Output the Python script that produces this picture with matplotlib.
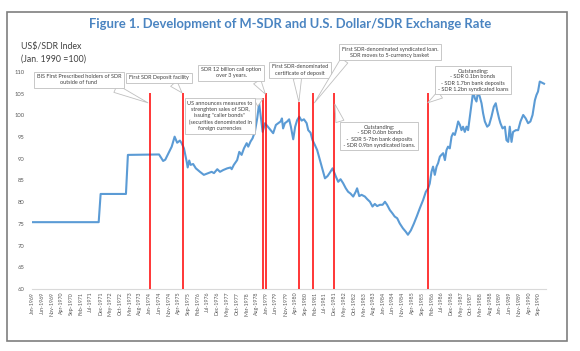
import numpy as np
import matplotlib
matplotlib.use('Agg')
import matplotlib.pyplot as plt
from matplotlib.patches import Rectangle

# months since Jan-1969 and US$/SDR index (Jan. 1990 = 100)
months = [0, 34, 35, 48, 49, 65, 67.1, 68.2, 71.5, 73, 74.3, 75.7, 76.6, 77.8, 79.2, 79.7, 80.5, 81.2,
          82.5, 83.9, 86, 88, 90.2, 92, 93.2, 94.9, 96.3, 97.9, 100, 101.7, 102.3, 103.4, 105.1, 106.2,
          107.4, 108.6, 110, 110.8, 112, 113, 114.2, 115.4, 116.4, 118.2, 119.4, 120.5, 122.3, 123.6,
          125, 126.2, 127.4, 128.1, 128.7, 129.6, 130.8, 131.8, 132.7, 133.9, 134.9, 135.9, 137, 138.2,
          139.4, 140.8, 141.6, 142.8, 143.8, 145, 146.2, 147.6, 149, 150.2, 151.5, 152.7, 154.1, 154.8,
          155.8, 157, 158.2, 159.5, 160.9, 162.1, 163.3, 164.7, 166, 166.7, 167.8, 169, 170.7, 171.9,
          173.3, 174.6, 175.8, 177, 178.4, 179.8, 181, 182.1, 183.5, 184.9, 186, 187.3, 188.6, 190.2,
          191.7, 192.8, 194.3, 195.8, 197.4, 198.9, 200.6, 202, 203.2, 204, 204.9, 205.7, 206.6, 207.5,
          208.3, 209.2, 210, 210.9, 211.8, 212.6, 213.4, 214.3, 215.2, 216, 216.9, 217.8, 218.6, 219.5,
          220.3, 221.1, 222, 222.9, 223.7, 224.6, 225.5, 226.3, 227.2, 228, 228.8, 229.7, 230.6, 231.4,
          232.3, 233.5, 234.5, 235.7, 236.9, 237.9, 238.6, 239.6, 240.3, 241.4, 242.6, 243.4, 244.3,
          245.1, 246, 246.8, 248.2, 249.4, 250.6, 252, 253.3, 254.5, 255.7, 256.8, 258, 258.8, 259.6,
          260.5, 261.4, 262.7]
index_vals = [75.4, 75.4, 81.9, 81.9, 90.9, 91.0, 89.5, 89.8, 92.8, 95.1, 93.7, 94.2, 93.6, 92.4, 89.3,
              88.0, 89.6, 88.6, 88.8, 87.8, 87.0, 86.3, 86.7, 87.0, 86.7, 87.6, 87.0, 87.4, 87.8, 88.0,
              87.6, 88.6, 89.7, 91.6, 90.9, 92.4, 93.6, 92.8, 94.0, 94.7, 96.2, 99.3, 102.8, 96.2, 98.2,
              97.6, 96.6, 95.9, 97.8, 98.2, 98.6, 99.3, 97.0, 98.2, 98.6, 99.1, 97.4, 94.5, 97.4, 98.9,
              99.7, 98.8, 99.1, 98.2, 96.6, 96.0, 94.3, 93.2, 92.0, 89.7, 87.4, 85.5, 86.0, 86.8, 87.8,
              87.0, 85.9, 84.7, 85.3, 84.4, 83.2, 82.4, 82.0, 81.3, 82.4, 83.2, 81.4, 81.7, 81.3, 80.7,
              80.1, 79.0, 79.6, 79.1, 79.4, 79.4, 80.1, 79.4, 78.2, 77.4, 76.7, 76.3, 75.1, 74.0, 73.2,
              72.5, 73.5, 75.0, 76.8, 78.6, 80.5, 82.4, 83.2, 84.3, 87.0, 88.2, 86.3, 88.2, 89.0, 90.5,
              90.9, 91.3, 89.7, 92.0, 92.8, 92.4, 95.1, 95.9, 95.5, 97.0, 98.6, 97.8, 96.6, 97.4, 96.2,
              97.4, 96.6, 99.7, 102.8, 105.5, 103.9, 103.2, 105.5, 104.3, 102.8, 100.5, 98.6, 97.4, 97.8,
              99.7, 102.0, 102.8, 101.2, 99.3, 98.2, 97.0, 97.4, 94.3, 93.9, 97.4, 93.9, 96.2, 96.6,
              96.6, 98.6, 100.1, 99.3, 98.2, 98.6, 100.1, 103.5, 104.7, 105.5, 107.8, 107.6, 107.3]

tick_labels = ['Jan-1969', 'Jun-1969', 'Nov-1969', 'Apr-1970', 'Sep-1970', 'Feb-1971', 'Jul-1971',
               'Dec-1971', 'May-1972', 'Oct-1972', 'Mar-1973', 'Aug-1973', 'Jan-1974', 'Jun-1974',
               'Nov-1974', 'Apr-1975', 'Sep-1975', 'Feb-1976', 'Jul-1976', 'Dec-1976', 'May-1977',
               'Oct-1977', 'Mar-1978', 'Aug-1978', 'Jan-1979', 'Jun-1979', 'Nov-1979', 'Apr-1980',
               'Sep-1980', 'Feb-1981', 'Jul-1981', 'Dec-1981', 'May-1982', 'Oct-1982', 'Mar-1983',
               'Aug-1983', 'Jan-1984', 'Jun-1984', 'Nov-1984', 'Apr-1985', 'Sep-1985', 'Feb-1986',
               'Jul-1986', 'Dec-1986', 'May-1987', 'Oct-1987', 'Mar-1988', 'Aug-1988', 'Jan-1989',
               'Jun-1989', 'Nov-1989', 'Apr-1990', 'Sep-1990']
tick_months = list(range(0, 261, 5))

# red event markers (month index) and where each line stops at the top
event_months = [60.3, 77.3, 118.3, 119.9, 136.8, 144.0, 154.8, 203.0]
event_tops = [105.2, 105.2, 104.0, 105.2, 103.1, 105.2, 105.2, 105.2]

# callouts: text, box centre (px from top-left), tail start on box, tail tip (month, index)
notes = [
    ("BIS First Prescribed holders of SDR\noutside of fund", (79, 80), (0.85, 0), (59.3, 102.9)),
    ("First SDR Deposit facility", (159, 78), (0.7, 0), (76.8, 105.2)),
    ("US announces measures to\nstrenghten sales of SDR,\nissuing \"caller bonds\"\n"
     "(securities denominated in\nforeign currencies", (220, 116), (1.0, 0.9), (118.3, 103.8)),
    ("SDR 12 billion call option\nover 3 years.", (231, 73), (0.9, 0), (119.6, 104.9)),
    ("First SDR-denominated\ncertificate of deposit", (300, 70), (0.45, 0), (136.8, 103.1)),
    ("First SDR-denominated syndicated loan.\nSDR moves to 5-currency basket", (390, 52), (0.05, 0), (144.8, 102.9)),
    ("Outstanding:\n - SDR 0.6bn bonds\n -  SDR 5-7bn bank deposits\n - SDR 0.9bn syndicated loans.",
     (379, 136), (0.0, 0.75), (155.3, 102.6)),
    ("Outstanding:\n- SDR 0.1bn bonds\n- SDR 1.7bn bank deposits\n- SDR 1.2bn syndicated loans",
     (473, 80), (0.1, 0), (203.0, 102.9)),
]

W, H = 580, 351
plt.rcParams['font.family'] = ['Lato', 'DejaVu Sans']
fig = plt.figure(figsize=(W / 100, H / 100), dpi=100)
fig.patch.set_facecolor('white')
fig.patches.append(Rectangle((6.7 / W, 1 - 340.5 / H), (567 - 6.7) / W, (340.5 - 12) / H,
                             transform=fig.transFigure, fill=False, ec='#7f7f7f', lw=1.2))

fig.text(290 / W, 1 - 24 / H, 'Figure 1. Development of M-SDR and U.S. Dollar/SDR Exchange Rate',
         ha='center', va='center', fontsize=9.4, fontweight='bold', color='#4a84c1')
fig.text(21 / W, 1 - 53 / H, 'US$/SDR Index\n(Jan. 1990 =100)', ha='left', va='center',
         fontsize=6.3, color='#404040', linespacing=1.5)

ax = fig.add_axes([31.5 / W, 1 - 289 / H, (545.6 - 31.5) / W, (289 - 72) / H])
ax.plot(months, index_vals, color='#5b9bd5', lw=1.5, zorder=3)
ax.vlines(event_months, 60, event_tops, color='#ff0000', lw=1.1, zorder=4)

ax.set_xlim(-0.5, 263.5)
ax.set_ylim(60, 110)
ax.set_yticks(range(60, 111, 5))
ax.set_xticks(tick_months)
ax.set_xticklabels(tick_labels, rotation=90, fontsize=3.8, color='#595959')
ax.tick_params(axis='y', labelsize=4.2, labelcolor='#595959', length=0, pad=5)
ax.tick_params(axis='x', length=0, pad=2)
for s in ['top', 'right', 'left']:
    ax.spines[s].set_visible(False)
ax.spines['bottom'].set_color('#d9d9d9')
ax.spines['bottom'].set_linewidth(0.8)

for text, (cx, cy), rel, tip in notes:
    ax.annotate(text, xy=tip, xycoords='data', xytext=(cx, H - cy), textcoords='figure pixels',
                ha='center', va='center', fontsize=4, color='#404040', linespacing=1.25,
                bbox=dict(boxstyle='square,pad=0.5', fc='white', ec='#bfbfbf', lw=0.6),
                arrowprops=dict(arrowstyle='wedge,tail_width=0.6', fc='white', ec='#bfbfbf',
                                lw=0.6, mutation_scale=10, shrinkA=0, shrinkB=0, relpos=rel),
                zorder=5, annotation_clip=False)

fig.savefig('out.png', dpi=100)
